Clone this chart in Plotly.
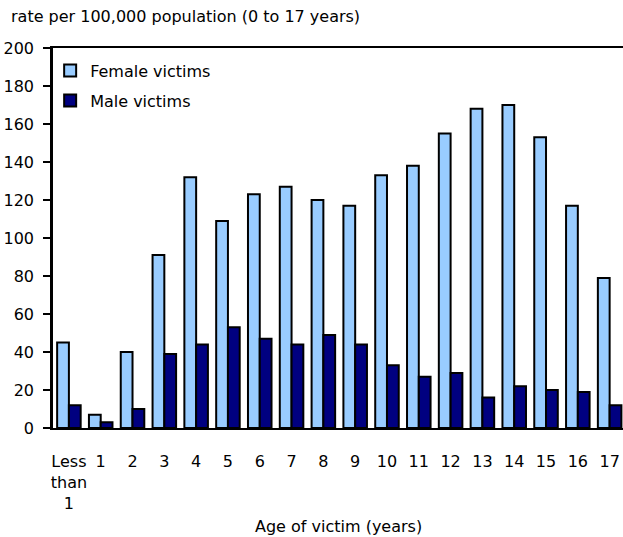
import plotly.graph_objects as go

# Data
ages = ['Less<br>than<br>1', '1', '2', '3', '4', '5', '6', '7', '8', '9',
        '10', '11', '12', '13', '14', '15', '16', '17']
female = [45, 7, 40, 91, 132, 109, 123, 127, 120, 117, 133, 138, 155, 168, 170, 153, 117, 79]
male = [12, 3, 10, 39, 44, 53, 47, 44, 49, 44, 33, 27, 29, 16, 22, 20, 19, 12]
y_ticks = list(range(0, 201, 20))

font = dict(family='DejaVu Sans, Arial, sans-serif', size=16, color='black')

fig = go.Figure()
fig.add_trace(go.Bar(x=ages, y=female, name='Female victims', legendgroup='f',
                     marker=dict(color='#99CCFF', line=dict(color='black', width=2))))
fig.add_trace(go.Bar(x=ages, y=male, name='Male victims', legendgroup='m',
                     marker=dict(color='#000080', line=dict(color='black', width=2))))

fig.update_layout(
    width=623, height=537,
    margin=dict(l=53, r=0, t=48, b=109),
    paper_bgcolor='white', plot_bgcolor='white',
    font=font,
    barmode='group', bargap=0.26, bargroupgap=0,
    showlegend=True,
    legend=dict(x=-0.005, y=0.985, xanchor='left', yanchor='top',
                bgcolor='rgba(0,0,0,0)', font=font,
                traceorder='grouped', tracegroupgap=6),
    xaxis=dict(type='category', range=[-0.5, 17.42],
               showline=True, linecolor='black', linewidth=2, mirror=True,
               ticks='', ticklabelstandoff=18, showgrid=False, zeroline=False),
    yaxis=dict(range=[0, 200], tickvals=y_ticks, showline=True, linecolor='black',
               linewidth=2.5, mirror=False, ticks='outside', ticklen=7, tickwidth=2,
               tickcolor='black', ticklabelstandoff=6, showgrid=False, zeroline=False),
    annotations=[
        dict(text='rate per 100,000 population (0 to 17 years)', xref='paper', yref='paper',
             x=0, y=1, xanchor='left', yanchor='middle', xshift=-44, yshift=32,
             showarrow=False, font=font),
        dict(text='Age of victim (years)', xref='paper', yref='paper',
             x=0.5, y=0, xanchor='center', yanchor='middle', yshift=-98,
             showarrow=False, font=font),
    ],
)

# drop the browser's default page margin so the figure sits at the window corner
fig.write_html("out.html", config={'displayModeBar': False},
               post_script="document.body.style.margin='0';")
